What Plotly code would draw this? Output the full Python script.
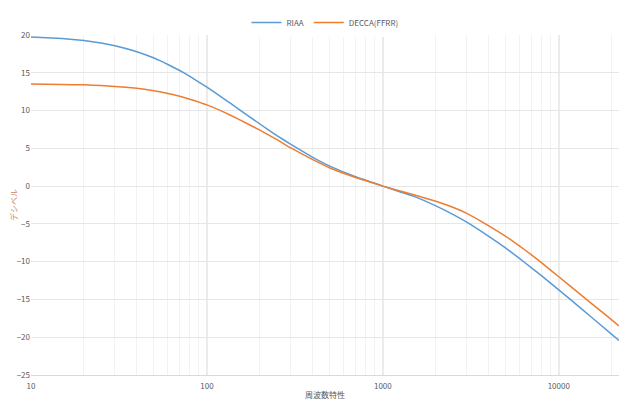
import plotly.graph_objects as go

freq = [10, 15, 20, 25, 30, 40, 50, 60, 70, 80, 100, 125, 150, 200, 250, 300, 400, 500, 700, 1000,
        1500, 2000, 2500, 3000, 4000, 5000, 6000, 7000, 8000, 10000, 12000, 15000, 20000, 22000]
riaa = [19.74, 19.54, 19.27, 18.95, 18.59, 17.79, 16.95, 16.10, 15.30, 14.52, 13.09, 11.56, 10.27, 8.22, 6.68, 5.53, 3.81, 2.64, 1.23, 0.0,
        -1.36, -2.61, -3.73, -4.76, -6.64, -8.21, -9.60, -10.82, -11.89, -13.73, -15.26, -17.16, -19.62, -20.43]
decca = [13.5, 13.46, 13.4, 13.31, 13.2, 12.95, 12.62, 12.27, 11.9, 11.5, 10.75, 9.8, 8.9, 7.4, 6.15, 5.05, 3.5, 2.4, 1.15, 0.0,
         -1.15, -2.0, -2.8, -3.6, -5.25, -6.65, -7.95, -9.1, -10.15, -12.0, -13.5, -15.35, -17.7, -18.5]

names = ["RIAA", "DECCA(FFRR)"]
colors = ["#5B9BD5", "#ED7D31"]

fig = go.Figure()
for n, ys, c in zip(names, [riaa, decca], colors):
    fig.add_trace(go.Scatter(x=freq, y=ys, name=n, mode="lines",
                             line=dict(color=c, width=1.5, shape="spline", smoothing=0.3)))

font_col = "#595959"
fig.update_layout(
    width=640, height=414,
    margin=dict(l=23, r=29, t=27, b=47, autoexpand=False),
    paper_bgcolor="white", plot_bgcolor="white",
    font=dict(family="Noto Sans CJK JP, Liberation Sans, sans-serif", size=8, color=font_col),
    legend=dict(orientation="h", x=0.5, xanchor="center", y=1.0, yanchor="top",
                yref="container", font=dict(size=8, color=font_col), itemwidth=30),
    showlegend=True,
)
fig.update_xaxes(type="log", range=[1, 4.3424], dtick=1, automargin=False,
                 tickvals=[10, 100, 1000, 10000], ticktext=["10", "100", "1000", "10000"],
                 showgrid=True, gridcolor="#ebebeb", gridwidth=2,
                 minor=dict(dtick="D1", showgrid=True, gridcolor="#f2f2f2", gridwidth=1),
                 showline=True, linecolor="#d9d9d9", linewidth=1,
                 ticks="", zeroline=False, ticklabelstandoff=3,
                 title=dict(text="周波数特性", font=dict(size=8, color=font_col), standoff=2),
                 tickfont=dict(size=8, color=font_col))
fig.update_yaxes(range=[-25, 20], dtick=5, showgrid=True, gridcolor="#e6e6e6", gridwidth=1,
                 zeroline=False, ticks="", showline=False, automargin=False,
                 title=dict(text="デシベル", font=dict(size=8, color="#c9876a"), standoff=0),
                 tickfont=dict(size=8, color=font_col))
fig.write_html("out.html")
